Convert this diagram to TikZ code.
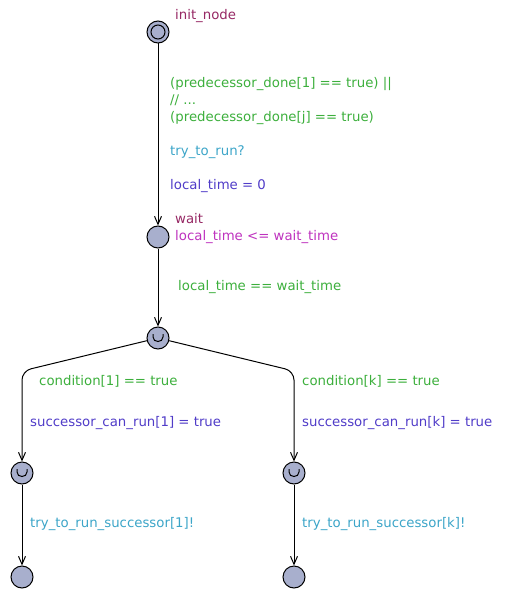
\documentclass[tikz,border=0pt]{standalone}
\usepackage{fontspec}
\setmainfont{DejaVu Sans}
\usetikzlibrary{arrows.meta}
\definecolor{locfill}{RGB}{168,175,205}
\definecolor{locname}{RGB}{150,40,100}
\definecolor{invcol}{RGB}{190,50,190}
\definecolor{guardcol}{RGB}{60,175,60}
\definecolor{synccol}{RGB}{60,165,200}
\definecolor{assigncol}{RGB}{80,60,200}
\tikzset{
  x=1pt, y=-1pt,
  every node/.style={font=\fontsize{13.3}{17}\selectfont},
  loc/.style={circle, draw, line width=1pt, fill=locfill, minimum size=22pt, inner sep=0pt},
  initloc/.style={loc, path picture={\draw[line width=1pt] (path picture bounding box.center) circle[radius=7];}},
  committed/.style={loc, path picture={\draw[line width=1pt]
      ([shift={(-5,-4)}]path picture bounding box.center) -- ++(0,3)
      .. controls +(0,6) and +(0,6) .. ++(10,0) -- ++(0,-3);}},
  lbl/.style={anchor=west, inner sep=0pt, align=left},
  edge/.style={draw, line width=1pt, rounded corners=9pt, -{Straight Barb[length=8pt,width=7pt]}},
}
\begin{document}
\begin{tikzpicture}
\useasboundingbox (0,0) rectangle (516,594);

% locations
\node[initloc] (init) at (158,32) {};
\node[loc] (wait) at (158,237) {};
\node[committed] (c1) at (158,338) {};
\node[committed] (c2) at (22,473) {};
\node[committed] (c3) at (294,473) {};
\node[loc] (e1) at (22,577) {};
\node[loc] (e2) at (294,577) {};

% location names and invariant
\node[lbl, text=locname] (nInit) at (175,16) {init\_node};
\node[lbl, text=locname] (nWait) at (175,219) {wait};
\node[lbl, text=invcol] (invWait) at (175,237) {local\_time <= wait\_time};

% transitions
\draw[edge] (init) -- (wait);
\draw[edge] (wait) -- (c1);
\coordinate (kl) at (22,371);
\coordinate (kr) at (294,371);
\draw[edge] (c1) -- (kl) -- (c2);
\draw[edge] (c1) -- (kr) -- (c3);
\draw[edge] (c2) -- (e1);
\draw[edge] (c3) -- (e2);

% transition labels
\node[lbl, text=guardcol] (g1) at (170,101) {(predecessor\_done[1] == true) ||\\// ...\\(predecessor\_done[j] == true)};
\node[lbl, text=synccol] (s1) at (170,152) {try\_to\_run?};
\node[lbl, text=assigncol] (a1) at (170,186) {local\_time = 0};
\node[lbl, text=guardcol] (g2) at (178,287) {local\_time == wait\_time};
\node[lbl, text=guardcol] (g3) at (39,381) {condition[1] == true};
\node[lbl, text=assigncol] (a3) at (30,423) {successor\_can\_run[1] = true};
\node[lbl, text=guardcol] (g4) at (302,381) {condition[k] == true};
\node[lbl, text=assigncol] (a4) at (302,423) {successor\_can\_run[k] = true};
\node[lbl, text=synccol] (s5) at (30,524) {try\_to\_run\_successor[1]!};
\node[lbl, text=synccol] (s6) at (302,524) {try\_to\_run\_successor[k]!};
\end{tikzpicture}
\end{document}
